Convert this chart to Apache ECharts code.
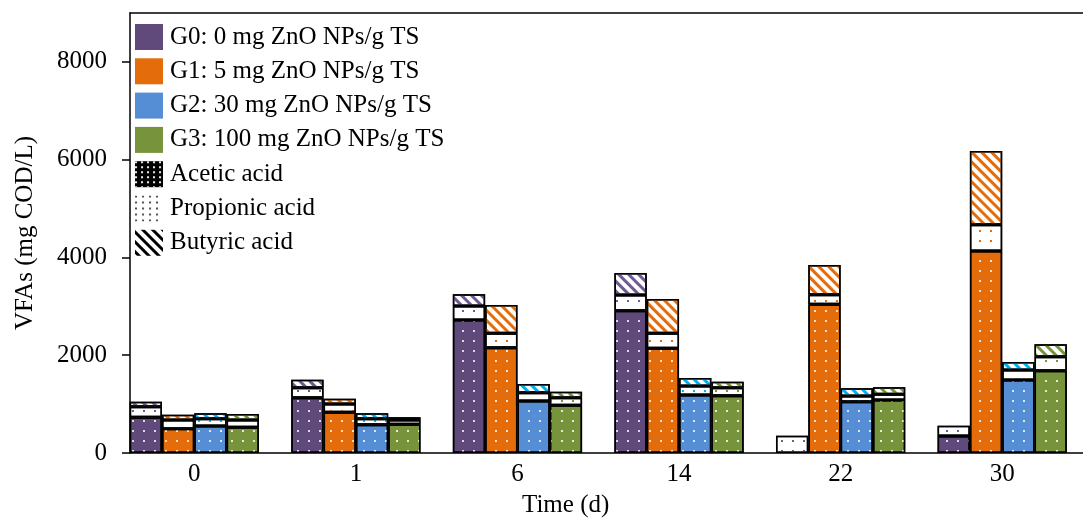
<!DOCTYPE html>
<html><head><meta charset="utf-8">
<script src="https://cdn.jsdelivr.net/npm/echarts@6/dist/echarts.min.js"></script>
<style>html,body{margin:0;padding:0;background:#fff}#c{width:1083px;height:521px}</style>
</head><body><div id="c"></div>
<script>
// ---- data ----
const categories = ['0', '1', '6', '14', '22', '30'];
const groupNames = ['G0: 0 mg ZnO NPs/g TS', 'G1: 5 mg ZnO NPs/g TS', 'G2: 30 mg ZnO NPs/g TS', 'G3: 100 mg ZnO NPs/g TS'];
const acidNames = ['Acetic acid', 'Propionic acid', 'Butyric acid'];
const yTicks = [0, 2000, 4000, 6000, 8000];
const yMax = 9000;

const g0Acetic = [730, 1131, 2721, 2911, 0, 348];
const g0Propionic = [217, 205, 286, 321, 354, 211];
const g0Butyric = [103, 160, 239, 450, 0, 0];
const g1Acetic = [497, 832, 2154, 2141, 3041, 4132];
const g1Propionic = [178, 170, 294, 307, 198, 538];
const g1Butyric = [108, 109, 579, 702, 606, 1507];
const g2Acetic = [552, 579, 1064, 1186, 1050, 1493];
const g2Propionic = [150, 123, 170, 184, 116, 205];
const g2Butyric = [110, 110, 177, 164, 157, 163];
const g3Acetic = [525, 587, 975, 1173, 1084, 1684];
const g3Propionic = [150, 88, 156, 163, 116, 286];
const g3Butyric = [123, 55, 123, 123, 143, 253];

const groupData = [
  [g0Acetic, g0Propionic, g0Butyric],
  [g1Acetic, g1Propionic, g1Butyric],
  [g2Acetic, g2Propionic, g2Butyric],
  [g3Acetic, g3Propionic, g3Butyric]
];

// ---- styles ----
const FONT = 'Liberation Serif';
const fillColors = ['#604A7B', '#E46C0A', '#558ED5', '#77933C'];
const patternColors = ['#6F5A91', '#E46C0A', '#00B0F0', '#77933C'];

function dotDecal(color, gap) {
  const g = gap || 8;
  return { symbol: 'rect', symbolSize: 1, color: color, dashArrayX: [2, g + 1], dashArrayY: [2, g] };
}
function stripeDecal(color) {
  return { symbol: 'rect', symbolSize: 1, color: color, dashArrayX: [1, 0], dashArrayY: [3, 3.5], rotation: Math.PI / 4 };
}
function acidStyle(ai, fill, pat) {
  if (ai === 0) return { color: fill, decal: dotDecal('rgba(255,255,255,0.8)') };
  if (ai === 1) return { color: '#ffffff', decal: dotDecal(pat) };
  return { color: '#ffffff', decal: stripeDecal(pat) };
}

const series = [];
groupData.forEach(function (acids, gi) {
  acids.forEach(function (vals, ai) {
    const st = acidStyle(ai, fillColors[gi], patternColors[gi]);
    series.push({
      type: 'bar',
      name: 'G' + gi + ' ' + acidNames[ai],
      stack: 'G' + gi,
      xAxisIndex: 0, yAxisIndex: 0,
      barGap: '0%', barCategoryGap: '20%',
      emphasis: { disabled: true },
      data: vals.map(function (v) { return v === 0 ? null : v; }),
      itemStyle: { color: st.color, decal: st.decal, borderColor: '#000', borderWidth: 1.5 }
    });
  });
});
// legend-only series
groupNames.forEach(function (n, gi) {
  series.push({ type: 'bar', name: n, stack: 'G0', xAxisIndex: 0, yAxisIndex: 0, data: [],
    itemStyle: { color: fillColors[gi] } });
});
acidNames.forEach(function (n, ai) {
  const st = ai === 0 ? { color: '#000', decal: dotDecal('rgba(255,255,255,0.9)', 3) }
           : ai === 1 ? { color: '#fff', decal: dotDecal('#555', 4) }
           : { color: '#fff', decal: stripeDecal('#000') };
  series.push({ type: 'bar', name: n, stack: 'G0', xAxisIndex: 0, yAxisIndex: 0, data: [],
    itemStyle: { color: st.color, decal: st.decal } });
});

const chart = echarts.init(document.getElementById('c'));
chart.setOption({
  animation: false,
  backgroundColor: '#fff',
  textStyle: { fontFamily: FONT },
  grid: [
    { left: 113.5, top: 13, width: 990, bottom: 68, containLabel: false },
    { left: 130, top: 13, right: 0, bottom: 68, containLabel: false }
  ],
  xAxis: [
    { type: 'category', gridIndex: 0, data: categories,
      axisLine: { show: false }, axisTick: { show: false },
      axisLabel: { fontFamily: FONT, fontSize: 25, color: '#000', margin: 9 } },
    { type: 'value', gridIndex: 1, position: 'bottom', min: 0, max: 1,
      axisLine: { show: true, lineStyle: { color: '#000', width: 1.5 } },
      axisTick: { show: false }, axisLabel: { show: false }, splitLine: { show: false } },
    { type: 'value', gridIndex: 1, position: 'top', min: 0, max: 1,
      axisLine: { show: true, lineStyle: { color: '#000', width: 1.5 } },
      axisTick: { show: false }, axisLabel: { show: false }, splitLine: { show: false } }
  ],
  yAxis: [
    { type: 'value', gridIndex: 0, min: 0, max: yMax, show: false },
    { type: 'value', gridIndex: 1, min: 0, max: yMax, interval: 2000,
      name: 'VFAs (mg COD/L)', nameLocation: 'middle', nameGap: 92,
      nameTextStyle: { fontFamily: FONT, fontSize: 25, color: '#000' },
      axisLine: { show: true, lineStyle: { color: '#000', width: 1.5 } },
      axisTick: { show: true, inside: false, length: 8, lineStyle: { color: '#000', width: 1.5 }, customValues: yTicks },
      axisLabel: { fontFamily: FONT, fontSize: 25, color: '#000', margin: 23, customValues: yTicks,
        formatter: function (v) { return String(v); } },
      splitLine: { show: false } }
  ],
  legend: {
    orient: 'vertical', left: 135, top: 24, padding: 0,
    itemWidth: 28, itemHeight: 26, itemGap: 8.3,
    icon: 'rect', selectedMode: false,
    data: groupNames.concat(acidNames),
    itemStyle: { borderWidth: 0 },
    textStyle: { fontFamily: FONT, fontSize: 25, color: '#000', padding: [0, 0, 0, 2] }
  },
  graphic: [
    { type: 'text', left: 522, top: 493,
      style: { text: 'Time (d)', font: '25px "Liberation Serif"', fill: '#000' } }
  ],
  series: series
});
</script>
</body></html>
